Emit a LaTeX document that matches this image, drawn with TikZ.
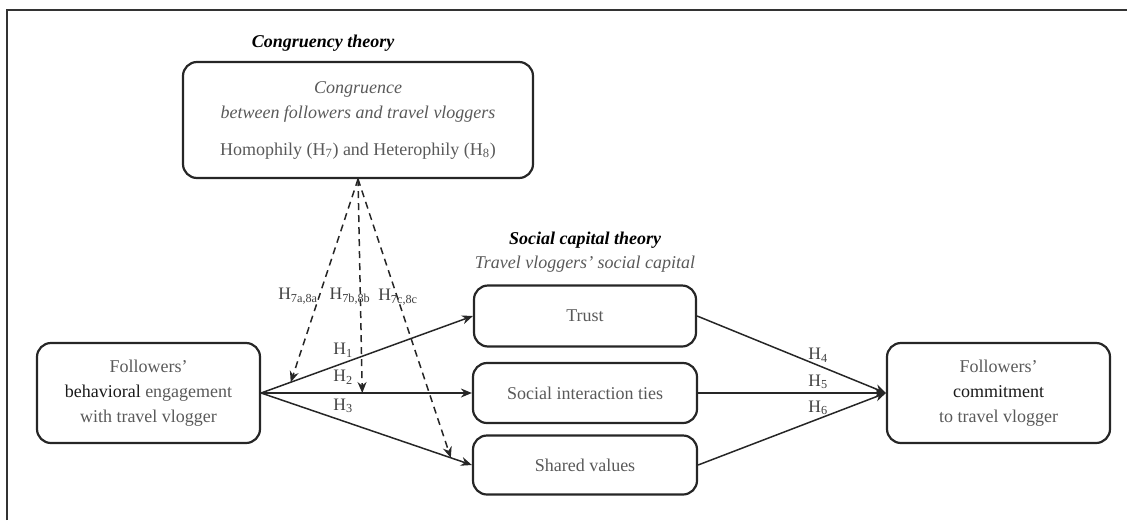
\documentclass[tikz,border=0pt]{standalone}
\usepackage{fontspec}
\setmainfont{LiberationSerif}[Extension=.ttf, UprightFont=*-Regular,
  BoldFont=*-Bold, ItalicFont=*-Italic, BoldItalicFont=*-BoldItalic]
\usetikzlibrary{arrows.meta, positioning}

\begin{document}
\begin{tikzpicture}[
    x=1pt, y=-1pt,
    >={Stealth[length=11pt, width=9pt]},
    box/.style={draw=black!85, line width=2.2pt, rounded corners=14pt,
                align=center, text=black!65,
                font=\fontsize{18}{25}\selectfont},
    link/.style={->, line width=1.5pt, black!85},
    modlink/.style={link, dash pattern=on 7pt off 5pt},
    hlbl/.style={font=\fontsize{17.5}{20}\selectfont, text=black!75},
    ttl/.style={font=\fontsize{18}{22}\selectfont\bfseries\itshape}
  ]
  \useasboundingbox (0,0) rectangle (1127,520);
  % frame
  \draw[line width=1.8pt, black!80] (7,520) -- (7,10) -- (1127,10);

  % Congruency theory
  \node[ttl] (congT) at (323,43) {Congruency theory};
  \node[box, minimum width=350pt, minimum height=116pt] (cong) at (358,120)
    {\textit{Congruence}\\
     \textit{between followers and travel vloggers}\\[12pt]
     Homophily (H\textsubscript{7}) and Heterophily (H\textsubscript{8})};

  % Social capital theory
  \node[ttl] (scT) at (585,240) {Social capital theory};
  \node[font=\fontsize{18}{22}\selectfont\itshape, text=black!65] (scS)
    at (585,264) {Travel vloggers' social capital};
  \node[box, minimum width=222pt, minimum height=61pt] (trust) at (585,316) {Trust};
  \node[box, minimum width=224pt, minimum height=60pt] (sit) at (585,393) {Social interaction ties};
  \node[box, minimum width=224pt, minimum height=59pt] (sv) at (585,465) {Shared values};

  % engagement and commitment
  \node[box, minimum width=223pt, minimum height=100pt] (beh) at (148.5,393)
    {Followers'\\ \textcolor{black!90}{behavioral} engagement\\ with travel vlogger};
  \node[box, minimum width=223pt, minimum height=100pt] (com) at (998.5,393)
    {Followers'\\ \textcolor{black!90}{commitment}\\ to travel vlogger};

  % direct paths
  \draw[link] (beh.east) -- (trust.west);
  \draw[link] (beh.east) -- (sit.west);
  \draw[link] (beh.east) -- (sv.west);
  \draw[link] (trust.east) -- (com.west);
  \draw[link] (sit.east) -- (com.west);
  \draw[link] (sv.east) -- (com.west);
  \node[hlbl] at (343,350) {H\textsubscript{1}};
  \node[hlbl] at (343,377) {H\textsubscript{2}};
  \node[hlbl] at (343,406) {H\textsubscript{3}};
  \node[hlbl] at (818,355) {H\textsubscript{4}};
  \node[hlbl] at (818,382) {H\textsubscript{5}};
  \node[hlbl] at (818,408) {H\textsubscript{6}};

  % moderation by congruence
  \path (beh.east) -- (trust.west) coordinate[pos=0.14] (m1);
  \path (beh.east) -- (sit.west) coordinate[pos=0.48] (m2);
  \path (beh.east) -- (sv.west) coordinate[pos=0.9] (m3);
  \draw[modlink] (cong.south) -- (m1);
  \draw[modlink] (cong.south) -- (m2);
  \draw[modlink] (cong.south) -- (m3);
  \node[hlbl] at (298,296) {H\textsubscript{7a,8a}};
  \node[hlbl] at (350,296) {H\textsubscript{7b,8b}};
  \node[hlbl] at (398,297) {H\textsubscript{7c,8c}};
\end{tikzpicture}
\end{document}
